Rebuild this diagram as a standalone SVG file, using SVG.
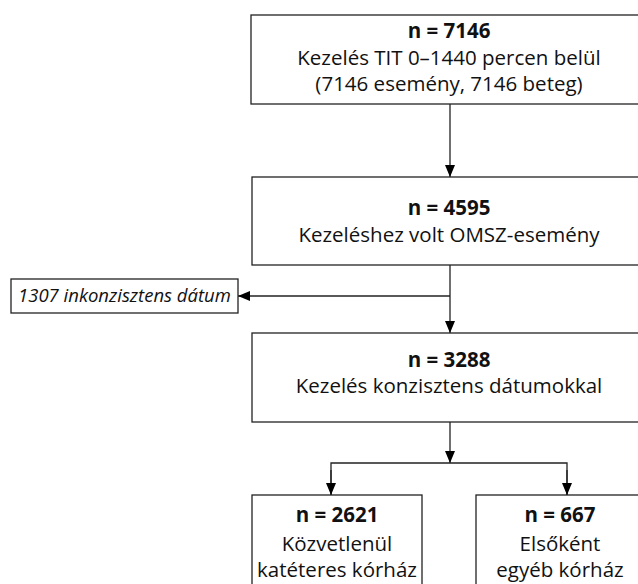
<svg xmlns="http://www.w3.org/2000/svg" width="638" height="584" viewBox="0 0 638 584">
<defs>
<style>
.box{fill:#fff;stroke:#222;stroke-width:1.3}
.t{font-family:"Open Sans","Noto Sans","Liberation Sans",sans-serif;font-size:20.5px;fill:#111;text-anchor:middle}
.b{font-weight:bold}
.i{font-style:italic;text-anchor:start;font-size:18.5px}
.ln{fill:none;stroke:#222;stroke-width:1.3}
</style>
<marker id="ah" viewBox="0 0 12 10" refX="12" refY="5" markerWidth="12" markerHeight="10" markerUnits="userSpaceOnUse" orient="auto">
<path d="M0,0 L12,5 L0,10 Z" fill="#000"/>
</marker>
</defs>
<rect width="638" height="584" fill="#fff"/>
<g id="connectors">
<line class="ln" x1="450" y1="104" x2="450" y2="177" marker-end="url(#ah)"/>
<line class="ln" x1="450" y1="265" x2="450" y2="333" marker-end="url(#ah)"/>
<line class="ln" x1="450" y1="296" x2="238" y2="296" marker-end="url(#ah)"/>
<line class="ln" x1="450" y1="422" x2="450" y2="463" marker-end="url(#ah)"/>
<polyline class="ln" points="331,495 331,463 567,463 567,495"/>
<line class="ln" x1="331" y1="470" x2="331" y2="495" marker-end="url(#ah)"/>
<line class="ln" x1="567" y1="470" x2="567" y2="495" marker-end="url(#ah)"/>
</g>
<g id="n1">
<rect class="box" x="251" y="15" width="400" height="89"/>
<text class="t b" x="449" y="38">n = 7146</text>
<text class="t" x="449" y="65">Kezelés TIT 0–1440 percen belül</text>
<text class="t" x="449" y="91">(7146 esemény, 7146 beteg)</text>
</g>
<g id="n2">
<rect class="box" x="252" y="177" width="400" height="88"/>
<text class="t b" x="449" y="215">n = 4595</text>
<text class="t" x="449" y="242">Kezeléshez volt OMSZ-esemény</text>
</g>
<g id="n_side">
<rect class="box" x="11" y="279" width="227" height="34"/>
<text class="t i" x="18" y="302">1307 inkonzisztens dátum</text>
</g>
<g id="n3">
<rect class="box" x="252" y="333" width="400" height="89"/>
<text class="t b" x="449" y="367">n = 3288</text>
<text class="t" x="449" y="393">Kezelés konzisztens dátumokkal</text>
</g>
<g id="n4">
<rect class="box" x="252" y="495" width="170" height="100"/>
<text class="t b" x="337" y="522">n = 2621</text>
<text class="t" x="337" y="551">Közvetlenül</text>
<text class="t" x="337" y="577">katéteres kórház</text>
</g>
<g id="n5">
<rect class="box" x="476" y="495" width="180" height="100"/>
<text class="t b" x="560" y="522">n = 667</text>
<text class="t" x="560" y="551">Elsőként</text>
<text class="t" x="560" y="577">egyéb kórház</text>
</g>
</svg>
